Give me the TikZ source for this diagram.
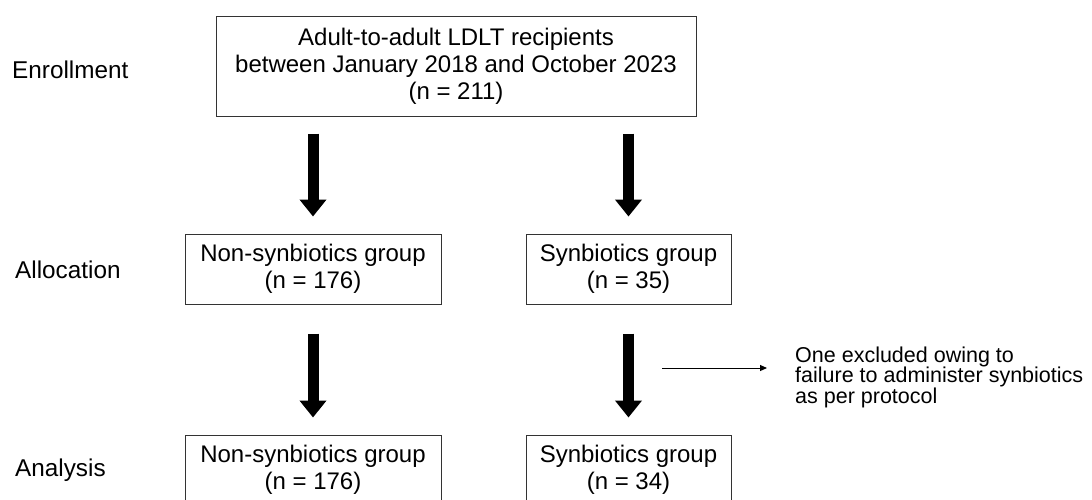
\documentclass[tikz,border=0pt]{standalone}
\usepackage{fontspec}
\setmainfont{Liberation Sans}
\usetikzlibrary{arrows.meta}
\begin{document}
\begin{tikzpicture}[x=1pt,y=-1pt,
  box/.style={draw=black!80, line width=1pt, inner sep=0pt, align=center,
    font=\fontsize{24}{27}\selectfont},
  stage/.style={anchor=west, inner sep=0pt, font=\fontsize{24.3}{27}\selectfont},
  blockarrow/.style={line width=11pt, -{Triangle[width=26pt,length=17pt]}},
  thinarrow/.style={line width=1pt, -{Triangle[width=6pt,length=7pt]}},
  note/.style={anchor=west, inner sep=0pt, align=left,
    font=\fontsize{21.5}{20.5}\selectfont}]
\useasboundingbox (0,0) rectangle (1092,499);

\node[box, minimum width=480pt, minimum height=100pt] (top) at (456,66)
  {Adult-to-adult LDLT recipients\\between January 2018 and October 2023\\(n = 211)};
\node[box, minimum width=256pt, minimum height=70pt] (a1) at (313,269)
  {Non-synbiotics group\\(n = 176)};
\node[box, minimum width=205pt, minimum height=70pt] (a2) at (628.5,269)
  {Synbiotics group\\(n = 35)};
\node[box, minimum width=256pt, minimum height=70pt] (b1) at (313,470)
  {Non-synbiotics group\\(n = 176)};
\node[box, minimum width=205pt, minimum height=70pt] (b2) at (628.5,470)
  {Synbiotics group\\(n = 34)};

\node[stage] (s1) at (12,70) {Enrollment};
\node[stage] (s2) at (15,270) {Allocation};
\node[stage] (s3) at (15,470) {Analysis};

\draw[blockarrow, shorten <=17pt, shorten >=17pt] (top.south -| a1.north) -- (a1.north);
\draw[blockarrow, shorten <=17pt, shorten >=17pt] (top.south -| a2.north) -- (a2.north);
\draw[blockarrow, shorten <=29pt, shorten >=17pt] (a1.south) -- (b1.north);
\draw[blockarrow, shorten <=29pt, shorten >=17pt] (a2.south) -- (b2.north);

\node[note] (ex) at (795,377)
  {One excluded owing to\\failure to administer synbiotics\\as per protocol};
\coordinate (exs) at (662,368);
\coordinate (exe) at (767,368);
\draw[thinarrow] (exs) -- (exe);
\end{tikzpicture}
\end{document}
